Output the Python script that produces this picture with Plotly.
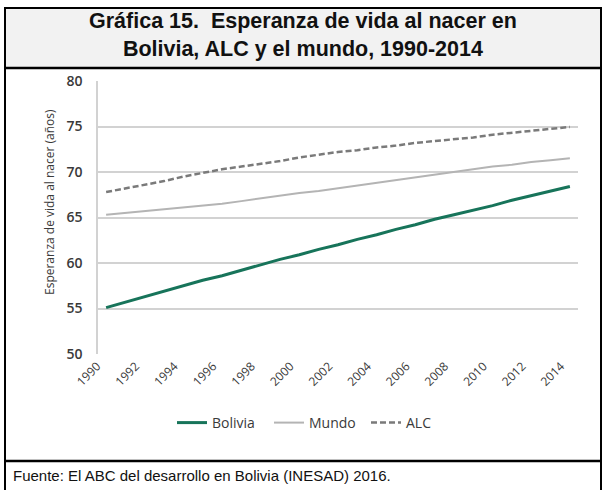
import plotly.graph_objects as go

years = list(range(1990, 2015))
bolivia = [55.1, 55.7, 56.3, 56.9, 57.5, 58.1, 58.6, 59.2, 59.8, 60.4, 60.9, 61.5, 62.0,
           62.6, 63.1, 63.7, 64.2, 64.8, 65.3, 65.8, 66.3, 66.9, 67.4, 67.9, 68.4]
mundo = [65.3, 65.5, 65.7, 65.9, 66.1, 66.3, 66.5, 66.8, 67.1, 67.4, 67.7, 67.9, 68.2,
         68.5, 68.8, 69.1, 69.4, 69.7, 70.0, 70.3, 70.6, 70.8, 71.1, 71.3, 71.5]
alc = [67.8, 68.2, 68.6, 69.0, 69.5, 69.9, 70.3, 70.6, 70.9, 71.2, 71.6, 71.9, 72.2,
       72.4, 72.7, 72.9, 73.2, 73.4, 73.6, 73.8, 74.1, 74.3, 74.5, 74.7, 74.95]
tick_years = list(range(1990, 2015, 2))
y_ticks = [50, 55, 60, 65, 70, 75, 80]

title_text = "Gráfica 15.\u00a0 Esperanza de vida al nacer en<br>Bolivia, ALC y el mundo, 1990-2014"
source_text = "Fuente: El ABC del desarrollo en Bolivia (INESAD) 2016."
ytitle_text = "Esperanza de vida al nacer (años)"

FW, FH = 605, 490
L, R, T, B = 98, 578, 81, 354
W, H = R - L, B - T


def xp(px):
    return (px - L) / W


def yp(py):
    return (B - py) / H


FONT = "Open Sans, Noto Sans, sans-serif"
TXT = "#3a3a3a"

fig = go.Figure()
fig.add_trace(go.Scatter(x=years, y=bolivia, mode="lines", name="Bolivia",
                         line=dict(color="#17745a", width=3)))
fig.add_trace(go.Scatter(x=years, y=mundo, mode="lines", name="Mundo",
                         line=dict(color="#b4b4b4", width=2)))
fig.add_trace(go.Scatter(x=years, y=alc, mode="lines", name="ALC",
                         line=dict(color="#7a7a7a", width=2.5, dash="6px,3px")))

shapes = [
    dict(type="rect", xref="paper", yref="paper", x0=xp(5), x1=xp(601), y0=yp(68), y1=yp(8),
         fillcolor="#f2f2f2", line=dict(width=0), layer="below"),
    dict(type="rect", xref="paper", yref="paper", x0=xp(5), x1=xp(601), y0=yp(491), y1=yp(8),
         line=dict(color="black", width=2)),
    dict(type="line", xref="paper", yref="paper", x0=xp(5), x1=xp(601), y0=yp(68), y1=yp(68),
         line=dict(color="black", width=2.5)),
    dict(type="line", xref="paper", yref="paper", x0=xp(5), x1=xp(601), y0=yp(461), y1=yp(461),
         line=dict(color="black", width=2.5)),
]

annotations = [
    dict(text="<b>" + title_text + "</b>", xref="paper", yref="paper", x=xp(303), y=yp(35),
         xanchor="center", yanchor="middle", showarrow=False,
         font=dict(family="Liberation Sans, Arial, sans-serif", size=21.5, color="#111111")),
    dict(text=source_text, xref="paper", yref="paper", x=xp(11), y=yp(475),
         xanchor="left", yanchor="middle", showarrow=False,
         font=dict(family="Liberation Sans, Arial, sans-serif", size=15, color="#111111")),
    dict(text=ytitle_text, xref="paper", yref="paper", x=xp(49), y=yp(202),
         xanchor="center", yanchor="middle", textangle=-90, showarrow=False,
         font=dict(family=FONT, size=12, color=TXT)),
]

fig.update_layout(
    width=FW, height=FH,
    margin=dict(l=L, r=FW - R, t=T, b=FH - B, autoexpand=False),
    paper_bgcolor="white", plot_bgcolor="white",
    shapes=shapes, annotations=annotations,
    showlegend=True,
    legend=dict(orientation="h", x=xp(172), xanchor="left", y=yp(423), yanchor="middle",
                font=dict(family=FONT, size=14, color=TXT), bgcolor="rgba(0,0,0,0)",
                itemwidth=30, tracegroupgap=0, entrywidth=52, entrywidthmode="pixels"),
)
fig.update_xaxes(range=[1989.58, 2014.42], tickvals=tick_years,
                 ticktext=[str(v) for v in tick_years], tickangle=-45,
                 showgrid=False, zeroline=False, showline=False, ticks="",
                 ticklabelshift=-9, ticklabelstandoff=2,
                 tickfont=dict(family=FONT, size=12, color=TXT))
fig.update_yaxes(range=[50, 80], tickvals=y_ticks, showgrid=True, gridcolor="#d2d2d2",
                 gridwidth=1.5, zeroline=False, showline=True, linecolor="#d2d2d2",
                 linewidth=1.5, ticks="", ticklabelstandoff=11,
                 tickfont=dict(family=FONT, size=14, color=TXT, weight=600))

fig.write_html("out.html", config={"displayModeBar": False},
               post_script="document.body.style.margin='0px';")
